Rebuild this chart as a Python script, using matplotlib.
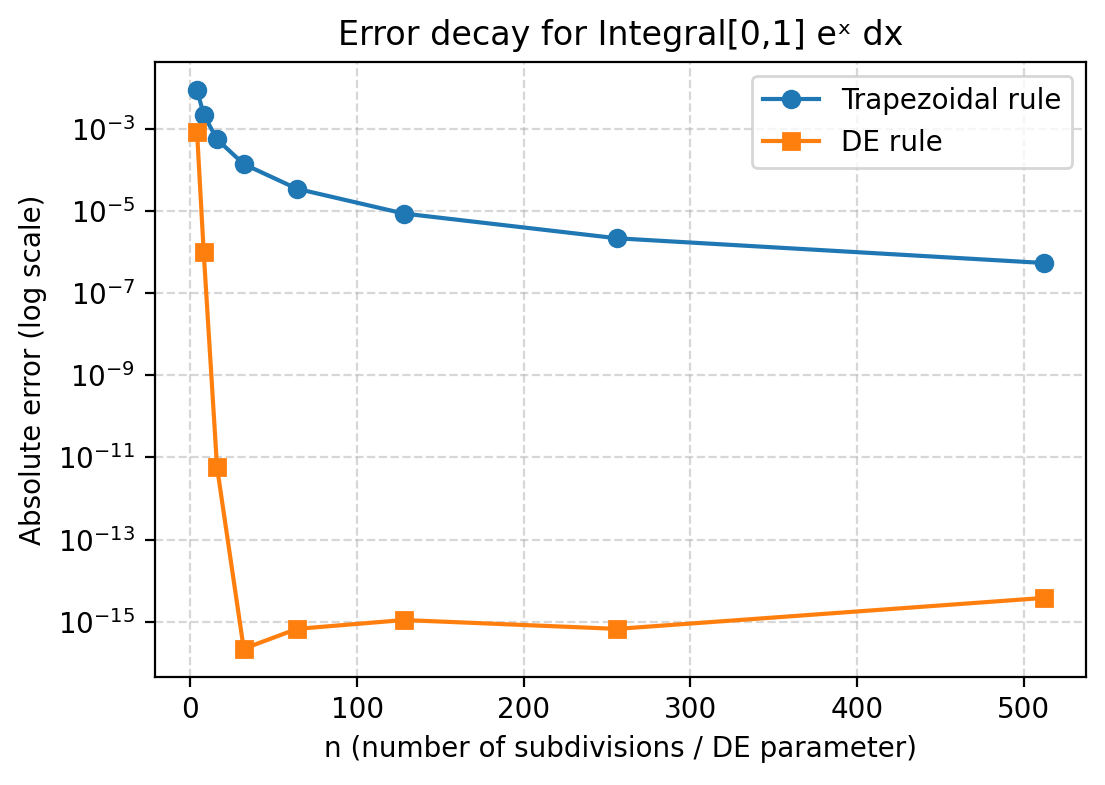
import matplotlib
matplotlib.use("Agg")
from matplotlib import pyplot as plt

n_values = [4, 8, 16, 32, 64, 128, 256, 512]
trap_err = [8.94e-3, 2.24e-3, 5.59e-4, 1.40e-4, 3.50e-5, 8.74e-6, 2.18e-6, 5.46e-7]
de_err = [8.6e-4, 1.0e-6, 5.8e-12, 2.2e-16, 6.7e-16, 1.1e-15, 6.7e-16, 3.8e-15]

fig, ax = plt.subplots(figsize=(5.525, 3.925), dpi=200)
ax.plot(n_values, trap_err, marker='o', label='Trapezoidal rule')
ax.plot(n_values, de_err, marker='s', label='DE rule')
ax.set_yscale('log')
ax.set_xlabel('n (number of subdivisions / DE parameter)')
ax.set_ylabel('Absolute error (log scale)')
ax.set_title('Error decay for Integral[0,1] eˣ dx')
ax.grid(True, which='major', linestyle='--', alpha=0.5)
ax.legend()
fig.subplots_adjust(left=0.140, right=0.983, top=0.921, bottom=0.138)
fig.savefig('out.png', dpi=200)
